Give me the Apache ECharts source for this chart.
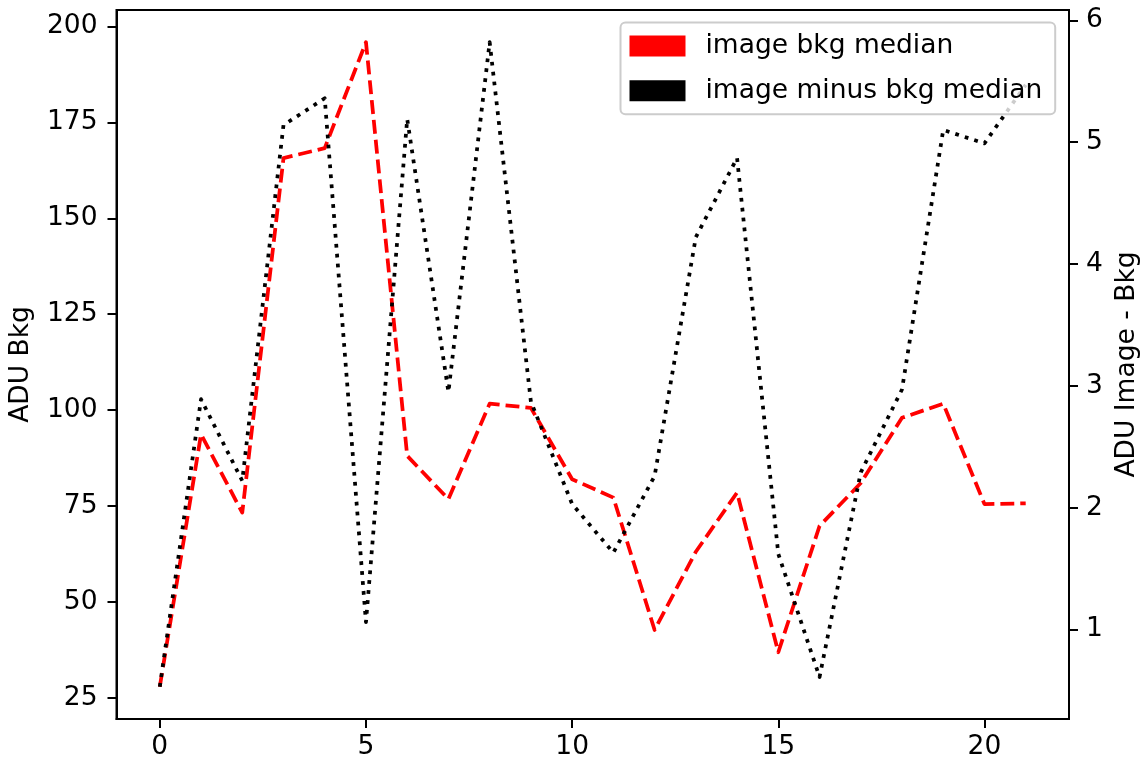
<!DOCTYPE html>
<html>
<head>
<meta charset="utf-8">
<script src="https://cdn.jsdelivr.net/npm/echarts@6/dist/echarts.min.js"></script>
<style>
html,body{margin:0;padding:0;background:#fff;}
#chart{width:1144px;height:763px;}
</style>
</head>
<body>
<div id="chart"></div>
<script>
const frames = [0,1,2,3,4,5,6,7,8,9,10,11,12,13,14,15,16,17,18,19,20,21];
const bkgMedian = [27.9, 93.7, 73.3, 165.7, 168.3, 195.9, 88.1, 76.8, 101.7, 100.6, 82.0, 77.2, 42.7, 63.1, 78.5, 36.9, 69.8, 81.0, 98.0, 101.7, 75.5, 75.7];
const minusMedian = [0.53, 2.89, 2.22, 5.14, 5.36, 1.06, 5.19, 2.95, 5.82, 2.87, 2.03, 1.63, 2.26, 4.22, 4.87, 1.62, 0.61, 2.29, 2.97, 5.10, 4.99, 5.47];
const xTicks = [0, 5, 10, 15, 20];
const leftTicks = [25, 50, 75, 100, 125, 150, 175, 200];
const rightTicks = [1, 2, 3, 4, 5, 6];
const seriesNames = ['image bkg median', 'image minus bkg median'];
const axisNames = ['ADU Bkg', 'ADU Image - Bkg'];

function padRange(arr) {
  const lo = Math.min(...arr), hi = Math.max(...arr);
  const m = (hi - lo) * 0.05;
  return [lo - m, hi + m];
}
const xr = padRange(frames), lr = padRange(bkgMedian), rr = padRange(minusMedian);

const FONT = 'DejaVu Sans';
const FS = 26.5;
const axisCommon = {
  axisLine: {show: true, onZero: false, lineStyle: {color: '#000', width: 2}},
  axisTick: {show: true, inside: false, length: 9, lineStyle: {color: '#000', width: 2}},
  splitLine: {show: false},
  axisLabel: {color: '#000', fontFamily: FONT, fontSize: FS},
  nameTextStyle: {color: '#000', fontFamily: FONT, fontSize: FS}
};

const chart = echarts.init(document.getElementById('chart'), null, {renderer: 'canvas'});
chart.setOption({
  animation: false,
  backgroundColor: '#fff',
  grid: {left: 116.5, right: 75, top: 10, bottom: 44, containLabel: false, outerBoundsMode: 'none', show: true, borderColor: '#000', borderWidth: 2, backgroundColor: 'transparent'},
  legend: {
    left: 620.5, top: 22.5,
    orient: 'vertical',
    padding: [10, 13, 10, 9],
    itemWidth: 56, itemHeight: 21, itemGap: 17.7,
    backgroundColor: 'rgba(255,255,255,0.8)',
    borderColor: '#cccccc', borderWidth: 2, borderRadius: 5,
    textStyle: {color: '#000', fontFamily: FONT, fontSize: FS, lineHeight: 21, padding: [0, 0, 0, 15]},
    data: [
      {name: seriesNames[0], icon: 'rect', itemStyle: {color: '#ff0000'}},
      {name: seriesNames[1], icon: 'rect', itemStyle: {color: '#000000'}}
    ]
  },
  xAxis: Object.assign({}, axisCommon, {
    type: 'value', min: xr[0], max: xr[1],
    axisLabel: Object.assign({}, axisCommon.axisLabel, {margin: 15, customValues: xTicks}),
    axisTick: Object.assign({}, axisCommon.axisTick, {customValues: xTicks})
  }),
  yAxis: [
    Object.assign({}, axisCommon, {
      type: 'value', position: 'left', min: lr[0], max: lr[1],
      name: axisNames[0], nameLocation: 'middle', nameRotate: 90, nameGap: 82,
      axisLabel: Object.assign({}, axisCommon.axisLabel, {margin: 19, customValues: leftTicks}),
      axisTick: Object.assign({}, axisCommon.axisTick, {customValues: leftTicks})
    }),
    Object.assign({}, axisCommon, {
      type: 'value', position: 'right', min: rr[0], max: rr[1],
      name: axisNames[1], nameLocation: 'middle', nameRotate: 90, nameGap: 45,
      axisLabel: Object.assign({}, axisCommon.axisLabel, {margin: 17, customValues: rightTicks}),
      axisTick: Object.assign({}, axisCommon.axisTick, {customValues: rightTicks})
    })
  ],
  series: [
    {
      name: seriesNames[0], type: 'line', yAxisIndex: 0,
      data: frames.map((x, i) => [x, bkgMedian[i]]),
      showSymbol: false, symbol: 'none',
      itemStyle: {color: '#ff0000'},
      lineStyle: {color: '#ff0000', width: 3.75, type: [13.9, 6], cap: 'butt', join: 'round'},
      z: 2
    },
    {
      name: seriesNames[1], type: 'line', yAxisIndex: 1,
      data: frames.map((x, i) => [x, minusMedian[i]]),
      showSymbol: false, symbol: 'none',
      itemStyle: {color: '#000000'},
      lineStyle: {color: '#000000', width: 3.75, type: [3.75, 6.2], cap: 'butt', join: 'round'},
      z: 3
    }
  ]
});
</script>
</body>
</html>
